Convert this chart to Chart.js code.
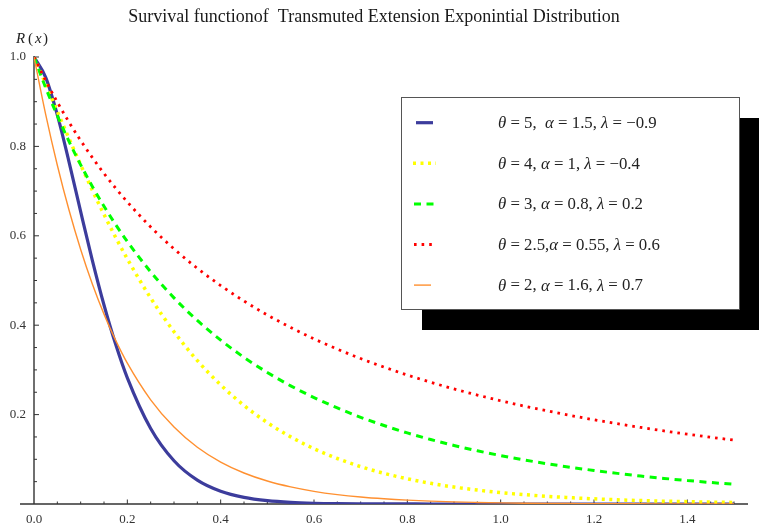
<!DOCTYPE html>
<html lang="en">
<head>
<meta charset="UTF-8">
<title>Survival function - Transmuted Extension Exponential</title>
<script src="https://cdn.jsdelivr.net/npm/chart.js"></script>
<style>
    body { margin: 0; background: #ffffff; }
    #wrap { width: 759px; height: 529px; }
</style>
</head>
<body>
<div id="wrap"><canvas id="survChart"></canvas></div>
<script>
// x grid (finer near the origin where the curves fall fast)
const xs = [0, 0.025, 0.05, 0.075, 0.1, 0.125, 0.15, 0.175, 0.2, 0.25, 0.3, 0.35, 0.4, 0.45, 0.5,
    0.55, 0.6, 0.65, 0.7, 0.75, 0.8, 0.85, 0.9, 0.95, 1.0, 1.05, 1.1, 1.15, 1.2, 1.25, 1.3,
    1.35, 1.4, 1.45, 1.5];

// R(x)
const blueR = [1, 0.9546, 0.8704, 0.7655, 0.6540, 0.5452, 0.4452, 0.3572, 0.2821, 0.1689, 0.0967,
    0.0533, 0.0284, 0.0147, 0.0074, 0.0036, 0.0017, 0.0008, 0.0004, 0.0002, 0.0001,
    0, 0, 0, 0, 0, 0, 0, 0, 0, 0, 0, 0, 0, 0];
const yellowR = [1, 0.9393, 0.8781, 0.8176, 0.7588, 0.7020, 0.6478, 0.5966, 0.5483, 0.4609, 0.3854,
    0.3209, 0.2664, 0.2205, 0.1821, 0.1502, 0.1237, 0.1018, 0.0836, 0.0687, 0.0564, 0.0463,
    0.0379, 0.0312, 0.0255, 0.0210, 0.0172, 0.0141, 0.0115, 0.0094, 0.0077, 0.0063, 0.0052,
    0.0042, 0.0035];
const greenR = [1, 0.9313, 0.8686, 0.8113, 0.7588, 0.7105, 0.6660, 0.6250, 0.5871, 0.5194, 0.4611,
    0.4106, 0.3667, 0.3280, 0.2943, 0.2644, 0.2382, 0.2149, 0.1940, 0.1756, 0.1590, 0.1443,
    0.1310, 0.1191, 0.1084, 0.0987, 0.0900, 0.0821, 0.0750, 0.0685, 0.0626, 0.0573, 0.0525,
    0.0481, 0.0441];
const redR = [1, 0.9473, 0.8990, 0.8544, 0.8131, 0.7750, 0.7395, 0.7064, 0.6757, 0.6198, 0.5708,
    0.5272, 0.4887, 0.4541, 0.4229, 0.3949, 0.3695, 0.3465, 0.3254, 0.3062, 0.2885, 0.2724,
    0.2574, 0.2438, 0.2309, 0.2191, 0.2082, 0.1979, 0.1884, 0.1796, 0.1713, 0.1635, 0.1561,
    0.1494, 0.1429];
const orangeR = [1, 0.8717, 0.7579, 0.6576, 0.5694, 0.4921, 0.4248, 0.3660, 0.3151, 0.2331, 0.1721,
    0.1270, 0.0938, 0.0694, 0.0514, 0.0382, 0.0283, 0.0210, 0.0156, 0.0116, 0.0086, 0.0064,
    0.0047, 0.0035, 0.0025, 0.0018, 0.0013, 0.0010, 0.0007, 0.0005, 0.0004, 0.0003, 0.0002,
    0.0001, 0.0001];

const seriesLabels = [
    'θ = 5,  α = 1.5, λ = −0.9',
    'θ = 4, α = 1, λ = −0.4',
    'θ = 3, α = 0.8, λ = 0.2',
    'θ = 2.5,α = 0.55, λ = 0.6',
    'θ = 2, α = 1.6, λ = 0.7'
];
const xTicks = [0, 0.2, 0.4, 0.6, 0.8, 1.0, 1.2, 1.4];
const yTicks = [0.2, 0.4, 0.6, 0.8, 1.0];

const serif = '"Liberation Serif", "DejaVu Serif", serif';

function pts(vals) {
    return xs.map((x, i) => ({ x: x, y: vals[i] }));
}

// draw a string, italicising the characters matched by italRe
function drawMath(ctx, str, x, y, size, italRe) {
    for (const ch of str) {
        ctx.font = (italRe.test(ch) ? 'italic ' : '') + size + 'px ' + serif;
        ctx.fillText(ch, x, y);
        x += ctx.measureText(ch).width;
    }
}

// Mathematica-like axes crossing at the origin, ticks pointing inwards
const axesPlugin = {
    id: 'mmaAxes',
    beforeDatasetsDraw(chart) {
        const { ctx, scales: { x, y } } = chart;
        const x0 = x.getPixelForValue(0);
        const y0 = y.getPixelForValue(0);
        ctx.save();
        ctx.strokeStyle = '#333';
        ctx.lineWidth = 1.4;
        ctx.beginPath();
        ctx.moveTo(x0 - 14, y0);
        ctx.lineTo(x.right, y0);
        ctx.moveTo(x0, y0);
        ctx.lineTo(x0, y.getPixelForValue(1) - 1);
        ctx.stroke();

        ctx.lineWidth = 1;
        ctx.beginPath();
        for (let i = 1; i <= 30; i++) {
            const px = x.getPixelForValue(i * 0.05);
            const len = i % 4 === 0 ? 4.5 : 2.5;
            ctx.moveTo(px, y0);
            ctx.lineTo(px, y0 - len);
        }
        for (let i = 1; i <= 20; i++) {
            const py = y.getPixelForValue(i * 0.05);
            const len = i % 4 === 0 ? 5 : 3;
            ctx.moveTo(x0, py);
            ctx.lineTo(x0 + len, py);
        }
        ctx.stroke();
        ctx.restore();
    },
    afterDraw(chart) {
        const { ctx } = chart;
        ctx.save();
        ctx.fillStyle = '#222';
        ctx.textBaseline = 'alphabetic';
        drawMath(ctx, 'R', 16, 43, 15, /[Rx]/);
        drawMath(ctx, '(', 28, 43, 15, /[Rx]/);
        drawMath(ctx, 'x', 35, 43, 15, /[Rx]/);
        drawMath(ctx, ')', 43, 43, 15, /[Rx]/);

        // legend box with drop shadow
        const bx = 401, by = 97, bw = 338, bh = 212;
        ctx.fillStyle = '#000';
        ctx.fillRect(bx + 21, by + 21, bw, bh);
        ctx.fillStyle = '#fff';
        ctx.fillRect(bx, by, bw, bh);
        ctx.strokeStyle = '#555';
        ctx.lineWidth = 1;
        ctx.strokeRect(bx + 0.5, by + 0.5, bw, bh);

        chart.data.datasets.forEach((ds, i) => {
            const ry = by + 25.7 + i * 40.6;
            ctx.save();
            ctx.strokeStyle = ds.borderColor;
            ctx.lineWidth = ds.borderWidth;
            ctx.setLineDash(ds.borderDash || []);
            ctx.beginPath();
            ctx.moveTo(ds.legendFrom, ry);
            ctx.lineTo(ds.legendTo, ry);
            ctx.stroke();
            ctx.restore();
            ctx.fillStyle = '#222';
            ctx.textBaseline = 'middle';
            drawMath(ctx, ds.label, 498, ry + 1, 16.8, /[θαλ]/);
        });
        ctx.restore();
    }
};

const ctx = document.getElementById('survChart').getContext('2d');
const survChart = new Chart(ctx, {
    type: 'line',
    data: {
        datasets: [
            {
                label: seriesLabels[0], data: pts(blueR),
                borderColor: '#3c3c9c', borderWidth: 3.2, order: 5,
                legendFrom: 416, legendTo: 433
            },
            {
                label: seriesLabels[1], data: pts(yellowR),
                borderColor: '#ffff00', borderWidth: 3.5, borderDash: [3, 4.5], order: 4,
                legendFrom: 413, legendTo: 436
            },
            {
                label: seriesLabels[2], data: pts(greenR),
                borderColor: '#00ff00', borderWidth: 3, borderDash: [7, 5.5], order: 3,
                legendFrom: 414, legendTo: 434
            },
            {
                label: seriesLabels[3], data: pts(redR),
                borderColor: '#ff0000', borderWidth: 2.8, borderDash: [2.6, 5], order: 2,
                legendFrom: 414, legendTo: 434
            },
            {
                label: seriesLabels[4], data: pts(orangeR),
                borderColor: '#ff9030', borderWidth: 1.4, order: 1,
                legendFrom: 414, legendTo: 431
            }
        ]
    },
    options: {
        responsive: true,
        maintainAspectRatio: false,
        animation: false,
        layout: { padding: { left: 0, right: 11, top: 0, bottom: 0 } },
        elements: {
            point: { radius: 0 },
            line: { cubicInterpolationMode: 'monotone', fill: false }
        },
        plugins: {
            legend: { display: false },
            tooltip: { enabled: false },
            title: {
                display: true,
                text: 'Survival functionof  Transmuted Extension Exponintial Distribution',
                color: '#1a1a1a',
                font: { family: serif, size: 18, weight: 'normal' },
                padding: { top: 6, bottom: 29.4 }
            }
        },
        scales: {
            x: {
                type: 'linear',
                min: 0,
                max: 1.53,
                grid: { display: false, drawTicks: false },
                border: { display: false },
                afterFit(s) { s.height = 25; },
                afterBuildTicks(s) { s.ticks = xTicks.map(v => ({ value: v })); },
                ticks: {
                    color: '#333',
                    padding: 8,
                    maxRotation: 0,
                    autoSkip: false,
                    font: { family: serif, size: 13 },
                    callback: v => v.toFixed(1)
                }
            },
            y: {
                type: 'linear',
                min: 0,
                max: 1,
                grid: { display: false, drawTicks: false },
                border: { display: false },
                afterFit(s) { s.width = 34; },
                afterBuildTicks(s) { s.ticks = yTicks.map(v => ({ value: v })); },
                ticks: {
                    color: '#333',
                    padding: 8,
                    autoSkip: false,
                    font: { family: serif, size: 13 },
                    callback: v => v.toFixed(1)
                }
            }
        }
    },
    plugins: [axesPlugin]
});
</script>
</body>
</html>
